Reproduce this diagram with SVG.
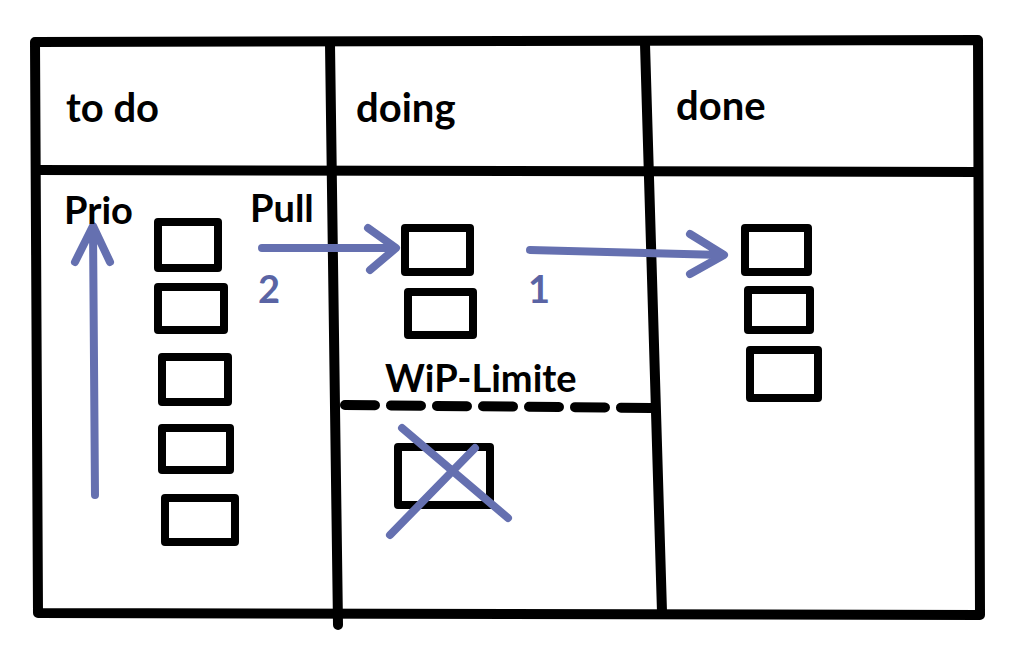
<svg xmlns="http://www.w3.org/2000/svg" width="1015" height="663" viewBox="0 0 1015 663">
<style>
.b{fill:none;stroke:#000;stroke-width:10;stroke-linecap:round;stroke-linejoin:round}
.c{fill:none;stroke:#000;stroke-width:8;stroke-linejoin:round}
.a{fill:none;stroke:#6570b0;stroke-width:8;stroke-linecap:round;stroke-linejoin:round}
.t{font-family:Lato,"Liberation Sans",sans-serif;font-weight:bold;fill:#000}
.n{font-family:Lato,"Liberation Sans",sans-serif;font-weight:bold;fill:#5a64a4}
</style>
<rect width="1015" height="663" fill="#fff"/>
<g id="board">
<path class="b" d="M35 42 L978 40 L980 615 L38 613 Z"/>
<path class="b" d="M36 170 L978 172"/>
<path class="b" d="M330 44 L338 625"/>
<path class="b" d="M645 44 L662 612"/>
</g>
<g id="headers">
<text class="t" x="66" y="122" font-size="40">to do</text>
<text class="t" x="356" y="122" font-size="40">doing</text>
<text class="t" x="676" y="120" font-size="40">done</text>
</g>
<g id="todo-cards">
<rect class="c" x="158" y="222" width="60" height="46"/>
<rect class="c" x="158" y="287" width="66" height="43"/>
<rect class="c" x="162" y="357" width="66" height="45"/>
<rect class="c" x="162" y="428" width="68" height="42"/>
<rect class="c" x="165" y="498" width="70" height="44"/>
</g>
<g id="doing-cards">
<rect class="c" x="405" y="228" width="65" height="44"/>
<rect class="c" x="408" y="292" width="65" height="43"/>
</g>
<g id="done-cards">
<rect class="c" x="745" y="228" width="63" height="44"/>
<rect class="c" x="748" y="290" width="62" height="40"/>
<rect class="c" x="750" y="350" width="68" height="48"/>
</g>
<g id="wip">
<path class="b" d="M345 405 L660 408" stroke-dasharray="30 16"/>
<text class="t" x="385" y="392" font-size="38">WiP-Limite</text>
<rect class="c" x="398" y="447" width="92" height="58"/>
<path class="a" d="M402 428 L508 518 M390 535 L475 448"/>
</g>
<g id="connectors">
<path class="a" d="M95 495 L93 228 M75 262 L93 226 L110 262"/>
<path class="a" d="M262 248 L395 248 M368 228 L396 248 L370 270"/>
<path class="a" d="M530 250 L722 255 M690 234 L724 255 L690 274"/>
</g>
<g id="labels">
<text class="t" x="64" y="224" font-size="38">Prio</text>
<text class="t" x="250" y="222" font-size="38">Pull</text>
<text class="n" x="258" y="303" font-size="38">2</text>
<text class="n" x="528" y="303" font-size="38">1</text>
</g>
</svg>
